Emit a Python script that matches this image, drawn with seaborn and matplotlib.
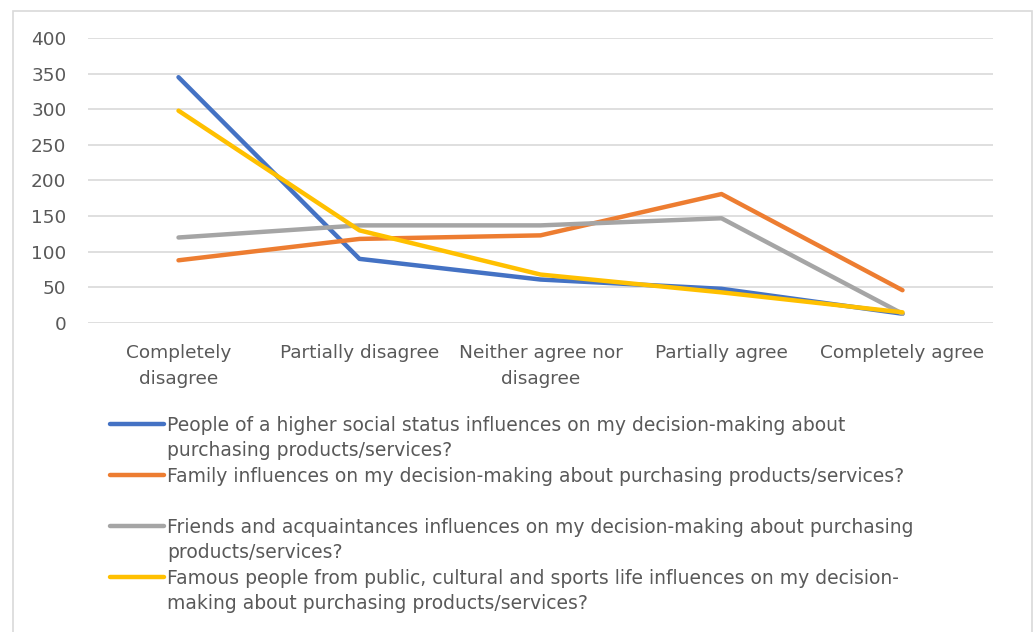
import matplotlib
matplotlib.use("Agg")
import matplotlib.pyplot as plt
import matplotlib.patches as patches
from matplotlib.lines import Line2D
import seaborn as sns
import pandas as pd

categories = ["Completely\ndisagree", "Partially disagree", "Neither agree nor\ndisagree",
              "Partially agree", "Completely agree"]

status = [345, 90, 61, 48, 13]
family = [88, 118, 123, 181, 46]
friends = [120, 137, 137, 147, 13]
famous = [298, 130, 68, 43, 15]

series_names = [
    "People of a higher social status influences on my decision-making about purchasing products/services?",
    "Family influences on my decision-making about purchasing products/services?",
    "Friends and acquaintances influences on my decision-making about purchasing products/services?",
    "Famous people from public, cultural and sports life influences on my decision-making about purchasing products/services?",
]
# legend text as it wraps in the original
legend_lines = [
    ["People of a higher social status influences on my decision-making about",
     "purchasing products/services?"],
    ["Family influences on my decision-making about purchasing products/services?", ""],
    ["Friends and acquaintances influences on my decision-making about purchasing",
     "products/services?"],
    ["Famous people from public, cultural and sports life influences on my decision-",
     "making about purchasing products/services?"],
]
colors = ["#4472C4", "#ED7D31", "#A5A5A5", "#FFC000"]

rows = []
for name, vals in zip(series_names, [status, family, friends, famous]):
    for i, v in enumerate(vals):
        rows.append({"cat": i, "value": v, "series": name})
df = pd.DataFrame(rows)

sns.set_style("white")
plt.rcParams["font.family"] = ["DejaVu Sans"]

fig = plt.figure(figsize=(10.35, 6.32), dpi=100)
ax = fig.add_axes([88 / 1035, 1 - 323 / 632, (993 - 88) / 1035, (323 - 38) / 632])

sns.lineplot(data=df, x="cat", y="value", hue="series", hue_order=series_names, palette=colors,
             linewidth=3.2, ax=ax, legend=True)

ax.set_xlim(-0.5, 4.5)
ax.set_ylim(0, 400)
ax.set_yticks(range(0, 401, 50))
ax.set_xticks(range(5))
ax.set_xticklabels(categories, fontsize=13.3, color="#595959", linespacing=1.6)
ax.tick_params(axis="y", labelsize=13.3, labelcolor="#595959", length=0, pad=15.5)
ax.tick_params(axis="x", length=0, pad=15)
ax.set_xlabel("")
ax.set_ylabel("")
ax.grid(axis="y", color="#D9D9D9", linewidth=1.2)
for s in ax.spines.values():
    s.set_visible(False)

# one legend row per text line, so the coloured line sits beside the first line
handles, _ = ax.get_legend_handles_labels()
leg_handles, leg_labels = [], []
for h, lines in zip(handles, legend_lines):
    leg_handles += [h, Line2D([], [], linestyle="none")]
    leg_labels += lines
ax.legend(leg_handles, leg_labels, loc="upper left", bbox_to_anchor=(110 / 1035, 1 - 416 / 632),
          bbox_transform=fig.transFigure, frameon=False, fontsize=13.5, labelcolor="#595959",
          handlelength=2.9, handletextpad=0.15, labelspacing=0.345, borderaxespad=0, borderpad=0)

fig.patches.append(patches.Rectangle((13 / 1035, -0.05), (1032 - 13) / 1035, 1.05 - 11 / 632,
                                     transform=fig.transFigure, fill=False, edgecolor="#D9D9D9",
                                     linewidth=1.2))

fig.savefig("out.png", dpi=100)
